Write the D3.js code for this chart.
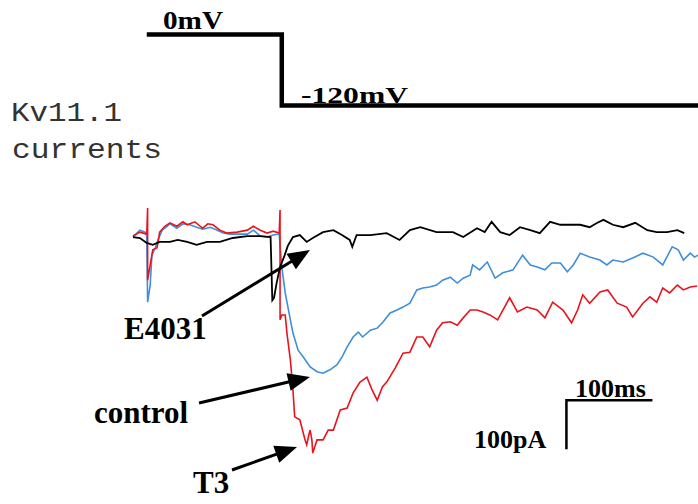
<!DOCTYPE html>
<html>
<head>
<meta charset="utf-8">
<script src="https://cdn.jsdelivr.net/npm/d3@7"></script>
<style>
  html, body { margin: 0; padding: 0; background: #fff; }
  svg { display: block; }
</style>
</head>
<body>
<div id="chart"></div>
<script>
// voltage protocol (ms, mV)
const protocolTime = [16, 173, 173, 657];
const protocolVoltage = [0, 0, -120, -120];

// E4031 trace (ms, pA)
const e4031Time = [0, 8, 16, 23, 31, 43, 52, 63, 74, 86, 101, 116, 133, 148, 160, 162, 164, 167, 171, 176, 180, 186, 194, 202, 209, 221, 233, 243, 252, 255, 260, 276, 295, 310, 322, 334, 353, 372, 384, 400, 409, 417, 427, 438, 450, 462, 473, 485, 497, 508, 520, 531, 540, 547, 558, 570, 584, 598, 609, 621, 633, 641];
const e4031Current = [2, 0, -10, -14, -8, -8, -4, -8, -14, -8, -8, 0, 4, 4, 2, -127, -122, -92, -59, -37, -16, 2, 6, -8, 0, 12, 16, 6, -4, -18, 6, 6, 10, -4, 16, 22, 12, 12, 2, 20, 12, 33, 12, 6, 22, 16, 10, 33, 27, 27, 27, 22, 31, 37, 27, 22, 31, 16, 12, 12, 16, 10];

// control trace
const controlTime = [0, 8, 14, 16, 17, 20, 22, 26, 29, 34, 40, 43, 51, 58, 66, 74, 81, 90, 98, 105, 113, 121, 133, 140, 148, 156, 163, 170, 173, 177, 183, 186, 192, 198, 206, 214, 221, 229, 237, 243, 249, 256, 262, 267, 276, 284, 291, 299, 307, 314, 322, 330, 337, 345, 353, 360, 369, 377, 384, 392, 395, 403, 412, 421, 430, 442, 453, 462, 470, 479, 487, 497, 505, 512, 520, 531, 543, 551, 558, 570, 581, 593, 605, 616, 627, 634, 640, 648, 653, 657];
const controlCurrent = [2, 16, 12, 4, -131, -96, -35, -20, -4, 16, 24, 29, 20, 29, 27, 22, 18, 22, 16, 10, 8, 8, 8, 16, 4, 2, 6, 8, -59, -112, -167, -194, -229, -243, -263, -273, -276, -269, -259, -243, -222, -202, -192, -202, -188, -184, -171, -153, -147, -141, -133, -106, -102, -100, -96, -86, -80, -92, -82, -76, -55, -65, -49, -82, -71, -65, -35, -55, -59, -65, -51, -51, -69, -55, -31, -39, -45, -55, -45, -49, -41, -31, -39, -55, -18, -24, -45, -31, -39, -35];

// T3 trace
const t3Time = [0, 8, 16, 17, 17, 20, 23, 28, 31, 37, 43, 51, 58, 63, 72, 78, 81, 87, 93, 101, 109, 121, 133, 140, 148, 156, 163, 170, 171, 171, 173, 177, 179, 183, 186, 188, 194, 198, 200, 202, 205, 206, 208, 209, 214, 221, 227, 233, 241, 249, 256, 264, 272, 278, 284, 290, 295, 305, 314, 322, 330, 337, 345, 353, 360, 369, 377, 384, 392, 400, 407, 415, 424, 438, 447, 458, 470, 479, 488, 500, 510, 517, 523, 531, 543, 552, 563, 574, 581, 593, 601, 609, 616, 624, 633, 640, 648, 656];
const t3Current = [4, 12, 8, 61, -86, -55, -24, -20, 12, 24, 31, 24, 33, 27, 33, 24, 20, 29, 27, 16, 10, 12, 16, 24, 16, 10, 14, 10, 57, -167, -157, -157, -194, -249, -310, -365, -371, -398, -412, -422, -398, -392, -412, -439, -412, -412, -392, -392, -351, -347, -316, -294, -284, -310, -331, -304, -294, -265, -235, -233, -202, -202, -222, -188, -173, -171, -178, -163, -147, -147, -151, -157, -167, -122, -151, -141, -147, -163, -131, -147, -173, -147, -116, -133, -110, -106, -133, -141, -161, -133, -120, -131, -102, -112, -96, -106, -100, -98];

// scale bar sizes
const barTime = 100;    // ms
const barCurrent = 100; // pA

const width = 698, height = 504;

const svg = d3.select('#chart').append('svg')
  .attr('width', width)
  .attr('height', height)
  .style('background', '#fff');

const x = d3.scaleLinear().domain([0, 657]).range([133, 698]);
const y = d3.scaleLinear().domain([0, -100]).range([238, 287]);
const v = d3.scaleLinear().domain([0, -120]).range([34.5, 105.5]);

const zip = (ts, vs) => ts.map((t, i) => [t, vs[i]]);

// voltage protocol
svg.append('path')
  .attr('d', d3.line().x(d => x(d[0])).y(d => v(d[1]))(zip(protocolTime, protocolVoltage)))
  .attr('fill', 'none')
  .attr('stroke', '#000')
  .attr('stroke-width', 4.5)
  .attr('stroke-linejoin', 'miter');

const serif = '"Liberation Serif", "Times New Roman", serif';

svg.append('text').text('0mV')
  .attr('x', 163).attr('y', 29)
  .attr('font-family', serif).attr('font-weight', 'bold').attr('font-size', 25)
  .attr('textLength', 60).attr('lengthAdjust', 'spacingAndGlyphs');

svg.append('text').text('-120mV')
  .attr('x', 301).attr('y', 103)
  .attr('font-family', serif).attr('font-weight', 'bold').attr('font-size', 24)
  .attr('textLength', 107).attr('lengthAdjust', 'spacingAndGlyphs');

// title (Courier-like: thin glyphs on a wide pitch)
const mono = '"Liberation Mono", "Courier New", monospace';
svg.append('text').text('Kv11.1')
  .attr('x', 11).attr('y', 121)
  .attr('font-family', mono).attr('font-size', 28).attr('fill', '#333')
  .attr('textLength', 111).attr('lengthAdjust', 'spacingAndGlyphs');
svg.append('text').text('currents')
  .attr('x', 12).attr('y', 158)
  .attr('font-family', mono).attr('font-size', 28).attr('fill', '#333')
  .attr('textLength', 150).attr('lengthAdjust', 'spacingAndGlyphs');

// traces
const traceLine = d3.line().x(d => x(d[0])).y(d => y(d[1]));
const traces = [
  { t: controlTime, i: controlCurrent, color: '#3f8fd8', w: 1.6 },
  { t: t3Time, i: t3Current, color: '#e8141c', w: 1.6 },
  { t: e4031Time, i: e4031Current, color: '#000', w: 1.8 }
];
traces.forEach(tr => {
  svg.append('path')
    .attr('d', traceLine(zip(tr.t, tr.i)))
    .attr('fill', 'none')
    .attr('stroke', tr.color)
    .attr('stroke-width', tr.w)
    .attr('stroke-linejoin', 'miter');
});

// arrows + labels
const arrows = [
  { label: 'E4031', lx: 124, ly: 339, from: [202, 316], to: [310, 250] },
  { label: 'control', lx: 94, ly: 423, from: [199, 403], to: [310, 377] },
  { label: 'T3', lx: 193, ly: 493, from: [232, 470], to: [297, 447] }
];
arrows.forEach(a => {
  const dx = a.to[0] - a.from[0], dy = a.to[1] - a.from[1];
  const len = Math.hypot(dx, dy);
  const ux = dx / len, uy = dy / len;
  const headLen = 22, headW = 9;
  const bx = a.to[0] - ux * headLen, by = a.to[1] - uy * headLen;
  svg.append('line')
    .attr('x1', a.from[0]).attr('y1', a.from[1])
    .attr('x2', bx + ux * 2).attr('y2', by + uy * 2)
    .attr('stroke', '#000').attr('stroke-width', 3);
  svg.append('polygon')
    .attr('points', [
      [a.to[0], a.to[1]],
      [bx - uy * headW, by + ux * headW],
      [bx + uy * headW, by - ux * headW]
    ].map(p => p.join(',')).join(' '))
    .attr('fill', '#000');
  svg.append('text').text(a.label)
    .attr('x', a.lx).attr('y', a.ly)
    .attr('font-family', serif).attr('font-weight', 'bold').attr('font-size', 31);
});

// scale bar
const sbT = 504, sbI = -331;
svg.append('path')
  .attr('d', d3.line()([
    [x(sbT + barTime), y(sbI)],
    [x(sbT), y(sbI)],
    [x(sbT), y(sbI - barCurrent)]
  ]))
  .attr('fill', 'none')
  .attr('stroke', '#000')
  .attr('stroke-width', 2.5)
  .attr('stroke-linejoin', 'miter');

svg.append('text').text(barTime + 'ms')
  .attr('x', 575).attr('y', 397)
  .attr('font-family', serif).attr('font-weight', 'bold').attr('font-size', 26);
svg.append('text').text(barCurrent + 'pA')
  .attr('x', 474).attr('y', 448)
  .attr('font-family', serif).attr('font-weight', 'bold').attr('font-size', 26);
</script>
</body>
</html>
